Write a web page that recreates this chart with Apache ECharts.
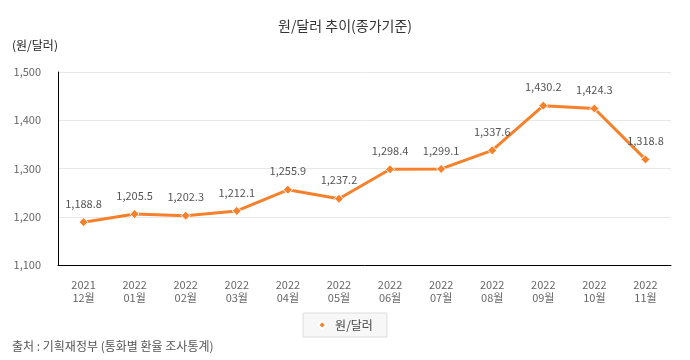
<!DOCTYPE html>
<html><head><meta charset="utf-8">
<script src="https://cdn.jsdelivr.net/npm/echarts@6/dist/echarts.min.js"></script>
<style>html,body{margin:0;padding:0;background:#fff}#c{width:690px;height:360px}</style>
</head><body><div id="c"></div>
<script>
const categories = ['2021\n12월','2022\n01월','2022\n02월','2022\n03월','2022\n04월','2022\n05월','2022\n06월','2022\n07월','2022\n08월','2022\n09월','2022\n10월','2022\n11월'];
const values = [1188.8, 1205.5, 1202.3, 1212.1, 1255.9, 1237.2, 1298.4, 1299.1, 1337.6, 1430.2, 1424.3, 1318.8];
const seriesName = '원/달러';
const font = '"Noto Sans CJK KR", "Noto Sans", sans-serif';
const chart = echarts.init(document.getElementById('c'));
chart.setOption({
  animation: false,
  textStyle: {fontFamily: font},
  title: {text: '원/달러 추이(종가기준)', left: 'center', top: 14,
    textStyle: {fontSize: 14, fontWeight: 'normal', color: '#333', fontFamily: font}},
  graphic: [
    {type: 'text', left: 12, top: 39, style: {text: '(원/달러)', fontSize: 12, fill: '#222', fontFamily: font}},
    {type: 'text', left: 12, top: 340, style: {text: '출처 : 기획재정부 (통화별 환율 조사통계)', fontSize: 12, fill: '#555', fontFamily: font}}
  ],
  legend: {top: 313, left: 'center', data: [seriesName], borderColor: '#ddd', borderWidth: 1,
    backgroundColor: '#f7f7f7', padding: [6, 14], icon: 'diamond', itemWidth: 8, itemHeight: 8, itemGap: 10,
    textStyle: {fontSize: 12, color: '#444', fontFamily: font, padding: [0, 0, 0, 4]}},
  grid: {left: 58, right: 19, top: 72, bottom: 95},
  xAxis: {type: 'category', data: categories, boundaryGap: true,
    axisLine: {lineStyle: {color: '#000'}}, axisTick: {show: false},
    axisLabel: {color: '#666', fontSize: 11, lineHeight: 13, margin: 13, fontFamily: font}},
  yAxis: {type: 'value', min: 1100, max: 1500, interval: 100,
    axisLine: {show: true, lineStyle: {color: '#000'}}, axisTick: {show: false},
    splitLine: {lineStyle: {color: '#e8e8e8'}},
    axisLabel: {color: '#666', fontSize: 11, margin: 17, fontFamily: font,
      formatter: v => v.toLocaleString('en-US')}},
  series: [{name: seriesName, type: 'line', data: values,
    symbol: 'diamond', symbolSize: 9,
    lineStyle: {color: '#F7812B', width: 3},
    itemStyle: {color: '#F7812B', borderColor: '#fff', borderWidth: 1},
    label: {show: true, position: 'top', distance: 8, color: '#555', fontSize: 11, fontFamily: font,
      formatter: p => p.value.toLocaleString('en-US', {minimumFractionDigits: 1, maximumFractionDigits: 1})}
  }]
});
</script></body></html>
